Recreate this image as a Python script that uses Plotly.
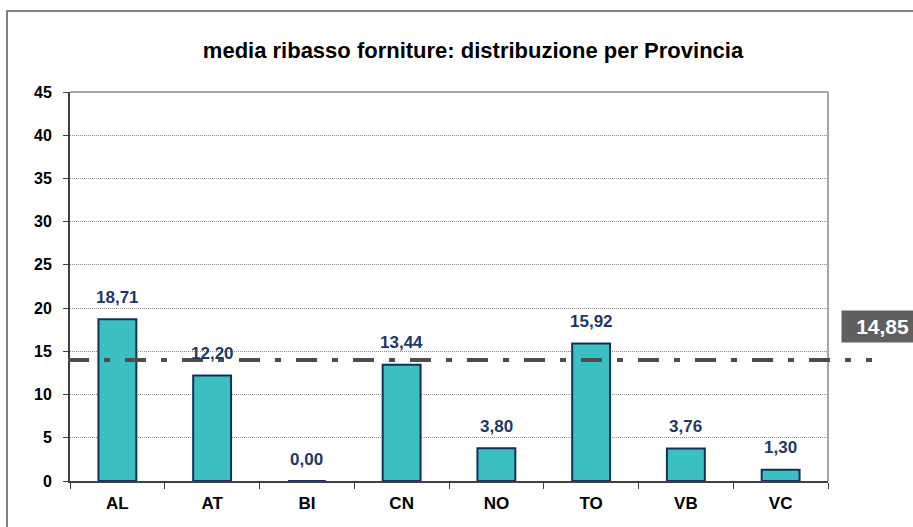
import plotly.graph_objects as go

categories = ["AL", "AT", "BI", "CN", "NO", "TO", "VB", "VC"]
values = [18.71, 12.20, 0.00, 13.44, 3.80, 15.92, 3.76, 1.30]
value_labels = ["18,71", "12,20", "0,00", "13,44", "3,80", "15,92", "3,76", "1,30"]
mean_label = "14,85"
mean_line_level = 14.0
y_ticks = [0, 5, 10, 15, 20, 25, 30, 35, 40, 45]

FONT = "Arial, Liberation Sans, sans-serif"
W, H = 913, 527
L, R, T, B = 70, 85, 92, 46
pw, ph = W - L - R, H - T - B

def px(x):
    return (x - L) / pw

def py(y):
    return (H - B - y) / ph

fig = go.Figure()
fig.add_trace(go.Bar(
    x=categories, y=values, width=0.4,
    marker=dict(color="#3cbfc1", line=dict(color="#14305a", width=2)),
    hoverinfo="skip",
))

annotations = []
for c, v, lab in zip(categories, values, value_labels):
    annotations.append(dict(x=c, y=v, xref="x", yref="y", text=lab, showarrow=False,
                            yshift=22, font=dict(family=FONT, size=17, color="#1f3864", weight="bold")))
annotations.append(dict(x=px(841), y=py(326), xref="paper", yref="paper", xanchor="left", yanchor="middle",
                        text=mean_label, showarrow=False, bgcolor="#5f5f5f", borderpad=4,
                        width=63, align="right",
                        font=dict(family=FONT, size=21, color="white", weight="bold")))

shapes = [
    # outer frame
    dict(type="line", xref="paper", yref="paper", x0=px(6), x1=px(913), y0=py(11), y1=py(11),
         line=dict(color="#808080", width=2)),
    dict(type="line", xref="paper", yref="paper", x0=px(7), x1=px(7), y0=py(11), y1=py(527),
         line=dict(color="#808080", width=2)),
    # plot area top/right border
    dict(type="line", xref="paper", yref="paper", x0=0, x1=1, y0=1, y1=1,
         line=dict(color="#a6a6a6", width=2)),
    dict(type="line", xref="paper", yref="paper", x0=1, x1=1, y0=0, y1=1,
         line=dict(color="#a6a6a6", width=2)),
    # mean line
    dict(type="line", xref="paper", yref="y", x0=px(68), x1=px(872), y0=mean_line_level, y1=mean_line_level,
         line=dict(color="#4d4d4d", width=4, dash="21px,15px,6px,15px")),
]

fig.update_layout(
    width=W, height=H,
    margin=dict(l=L, r=R, t=T, b=B),
    paper_bgcolor="white", plot_bgcolor="white",
    showlegend=False,
    title=dict(text="media ribasso forniture: distribuzione per Provincia", x=473 / W, xanchor="center",
               y=1 - 50 / H, yanchor="middle",
               font=dict(family=FONT, size=22, color="black", weight="bold")),
    annotations=annotations, shapes=shapes,
    bargap=0.6,
)
fig.update_yaxes(range=[0, 45], tickvals=y_ticks, showgrid=True, gridcolor="#8a8a8a", griddash="1px,1px",
                 gridwidth=1, showline=True, linecolor="#404040", linewidth=2, ticks="outside",
                 ticklen=5, tickcolor="#404040", zeroline=False, ticklabelstandoff=8,
                 tickfont=dict(family=FONT, size=16, color="black", weight="bold"))
fig.update_xaxes(range=[-0.5, 7.5], showline=True, linecolor="#404040", linewidth=2, ticks="outside",
                 tickson="boundaries", ticklen=6, tickcolor="#404040", ticklabelstandoff=6,
                 tickfont=dict(family=FONT, size=17, color="black", weight="bold"))

fig.write_html("out.html", config={"displayModeBar": False},
               post_script="document.body.style.margin='0';document.body.style.overflow='hidden';")
